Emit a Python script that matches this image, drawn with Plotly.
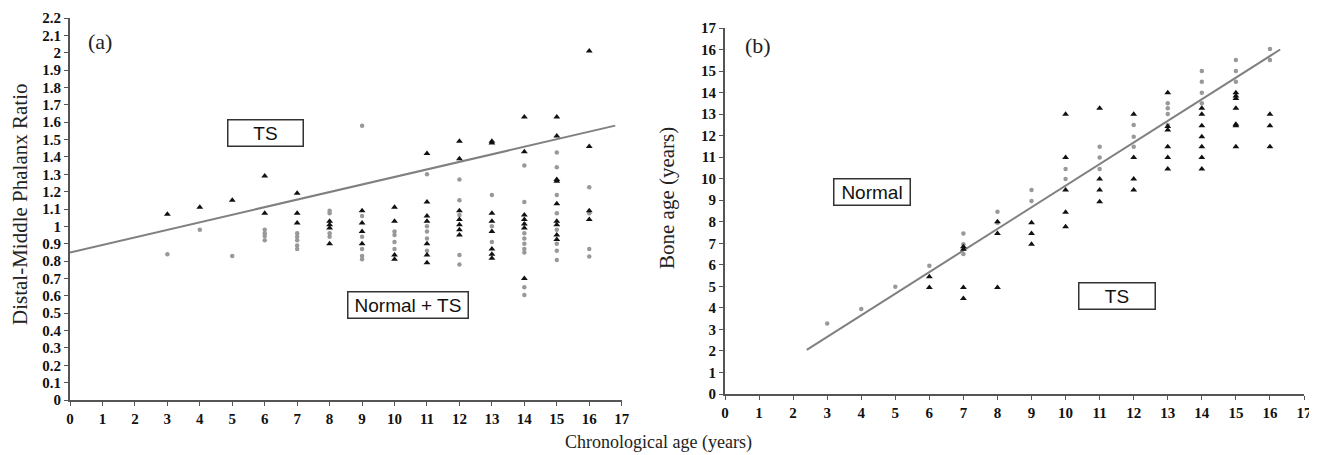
import plotly.graph_objects as go

# ---------------- Panel (a): Distal-Middle Phalanx Ratio ----------------
a_ts_x = [3, 4, 5, 6, 6, 7, 7, 7, 8, 8, 8, 8,
          9, 9, 9, 9, 10, 10, 10, 10,
          11, 11, 11, 11, 11, 11, 11,
          12, 12, 12, 12, 12, 12, 12,
          13, 13, 13, 13, 13, 13, 13, 13,
          14, 14, 14, 14, 14, 14, 14,
          15, 15, 15, 15, 15, 15, 15, 15, 15,
          16, 16, 16, 16]
a_ts_y = [1.07, 1.11, 1.15, 1.29, 1.075, 1.19, 1.075, 1.02, 1.03, 1.01, 0.99, 0.90,
          1.09, 1.02, 0.97, 0.90, 1.11, 1.03, 0.835, 0.81,
          1.42, 1.14, 1.06, 1.03, 0.90, 0.835, 0.79,
          1.49, 1.39, 1.09, 1.04, 1.01, 0.98, 0.95,
          1.49, 1.48, 1.075, 1.03, 0.97, 0.87, 0.84, 0.816,
          1.63, 1.43, 1.066, 1.04, 1.014, 0.99, 0.70,
          1.63, 1.52, 1.27, 1.26, 1.13, 1.03, 1.01, 0.95, 0.925,
          2.01, 1.46, 1.09, 1.04]
a_n_x = [3, 4, 5, 6, 6, 6, 6, 7, 7, 7, 7, 7,
         8, 8, 8, 8, 9, 9, 9, 9, 9, 9,
         10, 10, 10, 10, 11, 11, 11, 11, 11,
         12, 12, 12, 12, 12, 13, 13, 13,
         14, 14, 14, 14, 14, 14, 14, 14, 14,
         15, 15, 15, 15, 15, 15, 15, 15,
         16, 16, 16, 16]
a_n_y = [0.84, 0.98, 0.83, 0.98, 0.96, 0.945, 0.92, 0.96, 0.94, 0.92, 0.89, 0.87,
         1.09, 1.075, 0.96, 0.94, 1.58, 1.06, 0.94, 0.87, 0.83, 0.81,
         0.97, 0.95, 0.91, 0.87, 1.30, 1.00, 0.97, 0.93, 0.86,
         1.27, 1.15, 1.066, 0.835, 0.78, 1.18, 1.00, 0.91,
         1.35, 1.14, 0.96, 0.93, 0.90, 0.87, 0.85, 0.65, 0.605,
         1.425, 1.34, 1.18, 1.075, 0.98, 0.86, 0.806, 0.90,
         1.225, 1.075, 0.87, 0.826]
a_fit_x = [0, 16.8]
a_fit_y = [0.85, 1.58]

# ---------------- Panel (b): Bone age ----------------
b_ts_x = [6, 6, 7, 7, 7, 7, 8, 8, 8, 9, 9, 9,
          10, 10, 10, 10, 10, 11, 11, 11, 11,
          12, 12, 12, 12, 13, 13, 13, 13, 13, 13,
          14, 14, 14, 14, 14, 14, 14,
          15, 15, 15, 15, 15, 15, 15,
          16, 16, 16]
b_ts_y = [5.45, 4.95, 6.84, 6.72, 4.95, 4.44, 8.0, 7.46, 4.95, 7.96, 7.46, 6.95,
          12.99, 10.99, 9.48, 8.44, 7.77, 13.27, 9.99, 9.48, 8.93,
          12.99, 10.99, 9.99, 9.48, 13.99, 12.42, 12.26, 11.49, 10.99, 10.45,
          13.27, 12.99, 12.46, 11.95, 11.49, 10.99, 10.45,
          13.99, 13.84, 13.73, 13.27, 12.53, 12.46, 11.49,
          12.99, 12.46, 11.49]
b_n_x = [3, 4, 5, 6, 7, 7, 7, 8, 8, 9, 9,
         10, 10, 11, 11, 11, 12, 12, 12,
         13, 13, 13, 13, 14, 14, 14, 14,
         15, 15, 15, 16, 16]
b_n_y = [3.28, 3.95, 4.98, 5.96, 7.46, 6.95, 6.5, 8.47, 7.96, 9.48, 8.96,
         10.45, 9.99, 11.49, 10.98, 10.45, 12.49, 11.95, 11.49,
         13.5, 13.27, 13.0, 12.49, 15.0, 14.5, 13.99, 13.5,
         15.51, 15.0, 14.5, 16.02, 15.51]
b_fit_x = [2.4, 16.3]
b_fit_y = [2.05, 16.0]

x_ticks = list(range(0, 18))
a_y_ticks = [round(i * 0.1, 1) for i in range(0, 23)]
a_y_labels = ["0" if v == 0 else ("1" if v == 1 else ("2" if v == 2 else f"{v:.1f}")) for v in a_y_ticks]
b_y_ticks = list(range(0, 18))

# page body has an 8px margin: figure sized to fit the 1317x455 window exactly
OFF = 8
W, H = 1317 - OFF, 455 - OFF
def px(x):
    return (x - OFF) / W
def py(y):
    return (H - (y - OFF)) / H

fig = go.Figure()
ts_marker = dict(symbol="triangle-up", size=6, color="#111111")
n_marker = dict(symbol="circle", size=4.5, color="#999999")
line_style = dict(color="#808080", width=2)

fig.add_trace(go.Scatter(x=a_fit_x, y=a_fit_y, mode="lines", line=line_style, xaxis="x", yaxis="y", showlegend=False))
fig.add_trace(go.Scatter(x=a_n_x, y=a_n_y, mode="markers", marker=n_marker, xaxis="x", yaxis="y", showlegend=False))
fig.add_trace(go.Scatter(x=a_ts_x, y=a_ts_y, mode="markers", marker=ts_marker, xaxis="x", yaxis="y", showlegend=False))
fig.add_trace(go.Scatter(x=b_fit_x, y=b_fit_y, mode="lines", line=line_style, xaxis="x2", yaxis="y2", showlegend=False))
fig.add_trace(go.Scatter(x=b_n_x, y=b_n_y, mode="markers", marker=n_marker, xaxis="x2", yaxis="y2", showlegend=False))
fig.add_trace(go.Scatter(x=b_ts_x, y=b_ts_y, mode="markers", marker=ts_marker, xaxis="x2", yaxis="y2", showlegend=False))

tickfont = dict(family="Liberation Serif", size=15, color="#111111", weight="bold")
axis_common = dict(showgrid=False, zeroline=False, showline=True, linecolor="#555555", linewidth=2,
                   ticks="outside", ticklen=4, tickcolor="#555555", tickwidth=1, tickfont=tickfont,
                   automargin=False, ticklabeloverflow="allow")

fig.update_layout(
    width=W, height=H,
    margin=dict(l=0, r=0, t=0, b=0, pad=0, autoexpand=False),
    paper_bgcolor="white", plot_bgcolor="white",
    xaxis=dict(domain=[px(70), px(621.7)], range=[0, 17], tickvals=x_ticks, anchor="y", **axis_common),
    yaxis=dict(domain=[py(400), py(18)], range=[0, 2.2], tickvals=a_y_ticks, ticktext=a_y_labels, anchor="x", **axis_common),
    xaxis2=dict(domain=[px(725), px(1304)], range=[0, 17], tickvals=x_ticks, anchor="y2", **axis_common),
    yaxis2=dict(domain=[py(394), py(28)], range=[0, 17], tickvals=b_y_ticks, anchor="x2", **axis_common),
)

serif = "Liberation Serif"
sans = "Liberation Sans"
annos = [
    dict(x=px(100), y=py(41), text="(a)", font=dict(family=serif, size=22, color="#222")),
    dict(x=px(758), y=py(45), text="(b)", font=dict(family=serif, size=22, color="#222")),
    dict(x=px(20), y=py(205), text="Distal-Middle Phalanx Ratio", textangle=-90,
         font=dict(family=serif, size=21, color="#222")),
    dict(x=px(667), y=py(198), text="Bone age (years)", textangle=-90,
         font=dict(family=serif, size=21, color="#222")),
    dict(x=px(658), y=py(442), text="Chronological age (years)", font=dict(family=serif, size=18, color="#222")),
]
boxes = [
    ("TS", 265.5, 133, 72),
    ("Normal + TS", 408, 305, 117),
    ("Normal", 872, 192, 73),
    ("TS", 1117, 296, 73),
]
for t, cx, cy, w in boxes:
    annos.append(dict(x=px(cx), y=py(cy), text=t, width=w, height=23, borderpad=1,
                      bordercolor="#333333", borderwidth=1.5, bgcolor="white",
                      font=dict(family=sans, size=19, color="#111")))
for a in annos:
    a.update(xref="paper", yref="paper", showarrow=False, xanchor="center", yanchor="middle")
fig.update_layout(annotations=annos)

fig.write_html("out.html")
